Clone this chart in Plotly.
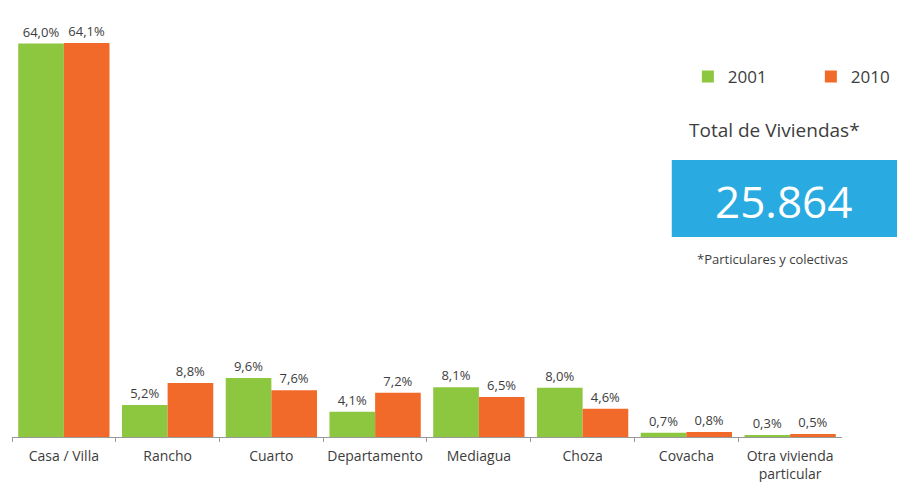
import plotly.graph_objects as go

categories = ["Casa / Villa", "Rancho", "Cuarto", "Departamento", "Mediagua",
              "Choza", "Covacha", "Otra vivienda<br>particular"]
vals_2001 = [64.0, 5.2, 9.6, 4.1, 8.1, 8.0, 0.7, 0.3]
vals_2010 = [64.1, 8.8, 7.6, 7.2, 6.5, 4.6, 0.8, 0.5]
series_names = ["2001", "2010"]
total_viviendas = "25.864"

def fmt(v):
    return f"{v:.1f}".replace(".", ",") + "%"

green = "#8dc63f"
orange = "#f26a2a"
blue = "#29abe2"
txt = "#3d3d3d"

fig = go.Figure()
for name, vals, col in [(series_names[0], vals_2001, green), (series_names[1], vals_2010, orange)]:
    fig.add_trace(go.Bar(
        x=categories, y=vals, name=name, marker=dict(color=col, line=dict(width=0)),
        text=[fmt(v) for v in vals], textposition="outside",
        textfont=dict(size=13, color=txt, family="Open Sans"),
        cliponaxis=False,
    ))

fig.update_layout(
    width=898, height=474,
    margin=dict(l=4, r=0, t=2, b=45, autoexpand=False),
    paper_bgcolor="white", plot_bgcolor="white",
    barmode="group", bargap=0.12, bargroupgap=0,
    font=dict(family="Open Sans", color=txt),
    showlegend=True,
    legend=dict(orientation="h", x=0.756, xanchor="left", y=0.843, yanchor="middle",
                font=dict(size=17, color=txt),
                traceorder="normal", entrywidth=78, entrywidthmode="pixels",
                bgcolor="rgba(0,0,0,0)"),
    xaxis=dict(domain=[0, 0.9284], showline=True, linecolor="#999999", linewidth=1,
               ticks="outside", tickson="boundaries", ticklen=4, tickcolor="#999999",
               ticklabelstandoff=6,
               tickangle=0, tickfont=dict(size=14, color=txt), showgrid=False),
    yaxis=dict(range=[0, 69.47], visible=False, showgrid=False, zeroline=False),
)

fig.add_shape(type="rect", xref="paper", yref="paper",
              x0=0.738, x1=0.990, y0=0.4684, y1=0.6487,
              fillcolor=blue, line=dict(width=0), layer="above")
fig.add_annotation(xref="paper", yref="paper", x=0.8635, y=0.5527, text=total_viviendas,
                   xanchor="center", yanchor="middle", showarrow=False,
                   font=dict(size=44, color="white", family="Open Sans"))
fig.add_annotation(xref="paper", yref="paper", x=0.853, y=0.719, text="Total de Viviendas*",
                   xanchor="center", yanchor="middle", showarrow=False,
                   font=dict(size=19, color=txt, family="Open Sans"))
fig.add_annotation(xref="paper", yref="paper", x=0.851, y=0.417, text="*Particulares y colectivas",
                   xanchor="center", yanchor="middle", showarrow=False,
                   font=dict(size=13, color=txt, family="Open Sans"))

fig.write_html("out.html")
